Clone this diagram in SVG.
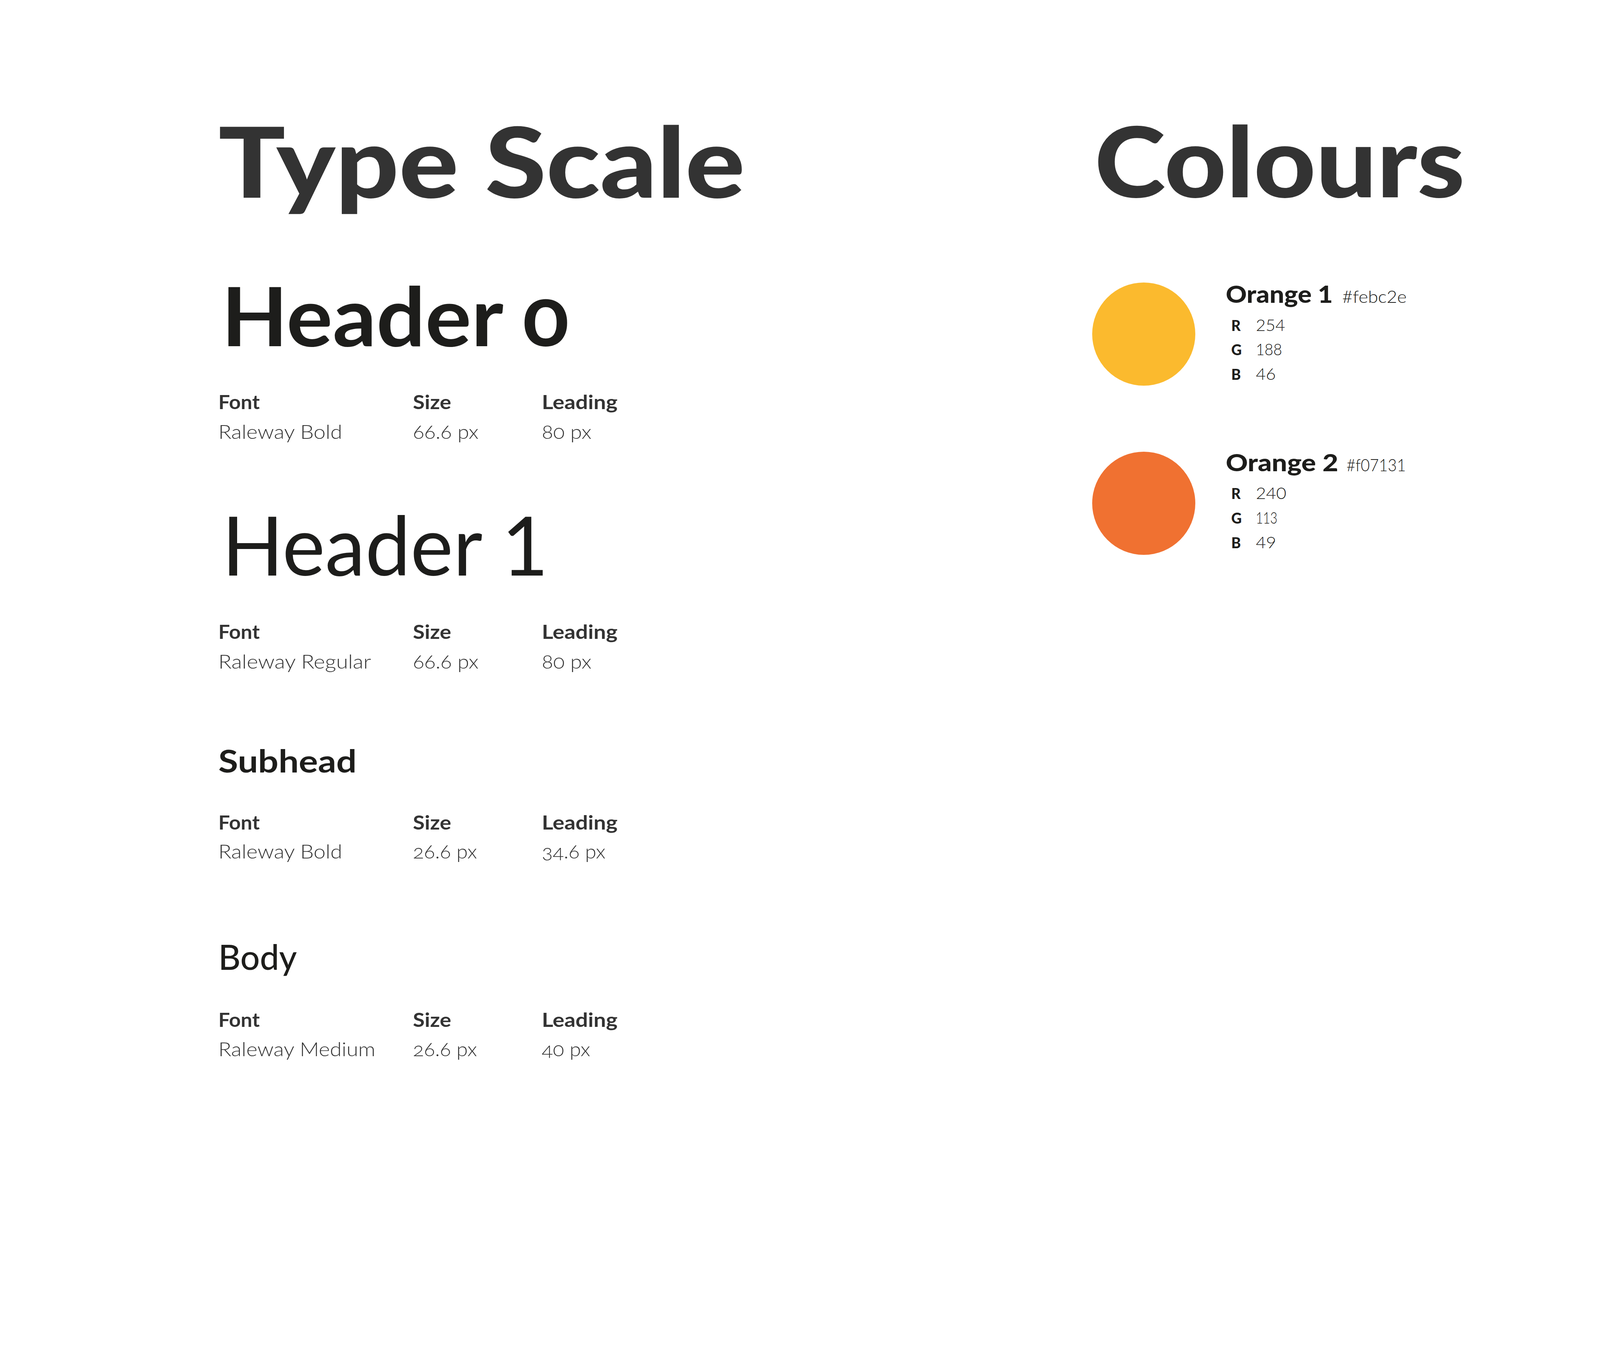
<svg xmlns="http://www.w3.org/2000/svg" width="4461" height="3501" viewBox="0 0 4461 3501">
<style>
text{font-family:Lato,"Open Sans","Liberation Sans",sans-serif;}
.title{font-size:250px;font-weight:900;fill:#333333;}
.h0{font-size:209px;font-weight:700;fill:#1d1d1b;}
.h1{font-size:210px;font-weight:400;fill:#1d1d1b;}
.sub{font-size:80px;font-weight:700;fill:#1d1d1b;}
.body{font-size:88px;font-weight:500;fill:#1d1d1b;}
.lab{font-size:50px;font-weight:700;fill:#333333;}
.val{font-size:50px;font-weight:300;fill:#333333;font-variant-numeric:oldstyle-nums;font-feature-settings:"onum" 1;}
.onum{font-variant-numeric:oldstyle-nums;font-feature-settings:"onum" 1;}
.cname{font-size:61px;font-weight:900;fill:#1d1d1b;}
.hex{font-size:43px;font-weight:300;fill:#1d1d1b;}
.ch{font-size:37px;font-weight:900;fill:#1d1d1b;}
.cv{font-size:41px;font-weight:300;fill:#1d1d1b;}
</style>
<rect x="0" y="0" width="4461" height="3501" fill="#ffffff"/>
<g id="type-scale">
<text class="title" x="559" y="506" textLength="1348" lengthAdjust="spacingAndGlyphs">Type Scale</text>
</g>
<g id="header0">
<text class="h0 onum" x="567" y="886" textLength="890" lengthAdjust="spacingAndGlyphs">Header 0</text>
<text class="lab" x="559" y="1047" textLength="106" lengthAdjust="spacingAndGlyphs">Font</text>
<text class="lab" x="1057" y="1047" textLength="98" lengthAdjust="spacingAndGlyphs">Size</text>
<text class="lab" x="1387" y="1047" textLength="194" lengthAdjust="spacingAndGlyphs">Leading</text>
<text class="val" x="559" y="1123" textLength="317" lengthAdjust="spacingAndGlyphs">Raleway Bold</text>
<text class="val" x="1057" y="1123" textLength="168" lengthAdjust="spacingAndGlyphs">66.6 px</text>
<text class="val" x="1387" y="1123" textLength="127" lengthAdjust="spacingAndGlyphs">80 px</text>
</g>
<g id="header1">
<text class="h1" x="568" y="1473" textLength="836" lengthAdjust="spacingAndGlyphs">Header 1</text>
<text class="lab" x="559" y="1635" textLength="106" lengthAdjust="spacingAndGlyphs">Font</text>
<text class="lab" x="1057" y="1635" textLength="98" lengthAdjust="spacingAndGlyphs">Size</text>
<text class="lab" x="1387" y="1635" textLength="194" lengthAdjust="spacingAndGlyphs">Leading</text>
<text class="val" x="559" y="1711" textLength="391" lengthAdjust="spacingAndGlyphs">Raleway Regular</text>
<text class="val" x="1057" y="1711" textLength="168" lengthAdjust="spacingAndGlyphs">66.6 px</text>
<text class="val" x="1387" y="1711" textLength="127" lengthAdjust="spacingAndGlyphs">80 px</text>
</g>
<g id="subhead">
<text class="sub" x="559" y="1977" textLength="354" lengthAdjust="spacingAndGlyphs">Subhead</text>
<text class="lab" x="559" y="2123" textLength="106" lengthAdjust="spacingAndGlyphs">Font</text>
<text class="lab" x="1057" y="2123" textLength="98" lengthAdjust="spacingAndGlyphs">Size</text>
<text class="lab" x="1387" y="2123" textLength="194" lengthAdjust="spacingAndGlyphs">Leading</text>
<text class="val" x="559" y="2197" textLength="317" lengthAdjust="spacingAndGlyphs">Raleway Bold</text>
<text class="val" x="1057" y="2197" textLength="164" lengthAdjust="spacingAndGlyphs">26.6 px</text>
<text class="val" x="1387" y="2197" textLength="163" lengthAdjust="spacingAndGlyphs">34.6 px</text>
</g>
<g id="body">
<text class="body" x="559" y="2482" textLength="201" lengthAdjust="spacingAndGlyphs">Body</text>
<text class="lab" x="559" y="2628" textLength="106" lengthAdjust="spacingAndGlyphs">Font</text>
<text class="lab" x="1057" y="2628" textLength="98" lengthAdjust="spacingAndGlyphs">Size</text>
<text class="lab" x="1387" y="2628" textLength="194" lengthAdjust="spacingAndGlyphs">Leading</text>
<text class="val" x="559" y="2703" textLength="402" lengthAdjust="spacingAndGlyphs">Raleway Medium</text>
<text class="val" x="1057" y="2703" textLength="164" lengthAdjust="spacingAndGlyphs">26.6 px</text>
<text class="val" x="1387" y="2703" textLength="124" lengthAdjust="spacingAndGlyphs">40 px</text>
</g>
<g id="colours">
<text class="title" x="2802" y="505" textLength="948" lengthAdjust="spacingAndGlyphs">Colours</text>
</g>
<g id="orange1">
<circle cx="2928" cy="855" r="132" fill="#fbba2e"/>
<text class="cname" x="3138" y="775" textLength="274" lengthAdjust="spacingAndGlyphs">Orange 1</text>
<text class="hex" x="3436" y="775" textLength="165" lengthAdjust="spacingAndGlyphs">#febc2e</text>
<text class="ch" x="3152" y="847">R</text>
<text class="cv" x="3215" y="847" textLength="75" lengthAdjust="spacingAndGlyphs">254</text>
<text class="ch" x="3152" y="909">G</text>
<text class="cv" x="3215" y="909" textLength="67" lengthAdjust="spacingAndGlyphs">188</text>
<text class="ch" x="3152" y="972">B</text>
<text class="cv" x="3215" y="972" textLength="51" lengthAdjust="spacingAndGlyphs">46</text>
</g>
<g id="orange2">
<circle cx="2928" cy="1288" r="132" fill="#f07131"/>
<text class="cname" x="3138" y="1206" textLength="288" lengthAdjust="spacingAndGlyphs">Orange 2</text>
<text class="hex" x="3447" y="1206" textLength="152" lengthAdjust="spacingAndGlyphs">#f07131</text>
<text class="ch" x="3152" y="1277">R</text>
<text class="cv" x="3215" y="1277" textLength="78" lengthAdjust="spacingAndGlyphs">240</text>
<text class="ch" x="3152" y="1340">G</text>
<text class="cv" x="3215" y="1340" textLength="55" lengthAdjust="spacingAndGlyphs">113</text>
<text class="ch" x="3152" y="1403">B</text>
<text class="cv" x="3215" y="1403" textLength="52" lengthAdjust="spacingAndGlyphs">49</text>
</g>
<g id="connectors"></g>
</svg>
